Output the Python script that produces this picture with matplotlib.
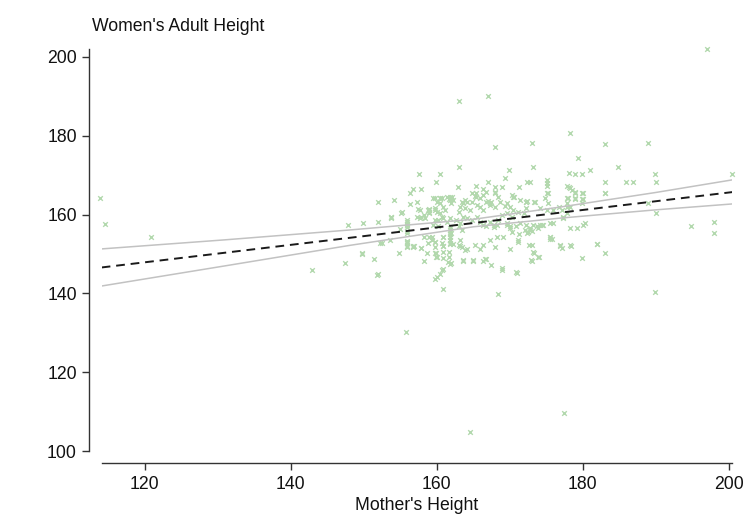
import numpy as np
import matplotlib
matplotlib.use("Agg")
import matplotlib.pyplot as plt

plt.rcParams['font.family'] = ['Liberation Sans', 'DejaVu Sans']

# Altura de la madre (cm) y altura adulta de la hija (cm)
mother_height = [
    113.9, 114.6, 120.9, 142.9, 147.4, 147.9, 149.7, 149.8, 151.4, 151.8, 155.8, 164.5, 177.4, 197.0,
    163.0, 167.0, 178.3, 173.0, 168.0, 183.0, 189.0, 179.4, 184.9, 181.0, 178.1, 178.9, 179.9, 189.9, 200.4,
    163.0, 157.6, 160.4, 169.9, 173.2, 169.3, 159.9, 167.0, 172.8, 172.4, 175.1, 175.1, 183.0, 185.9, 186.9, 190.0,
    162.9, 165.4, 157.8, 156.8, 168.0, 168.0, 169.0, 171.3, 166.4, 165.4, 165.4, 156.4,
    178.1, 178.5, 179.9, 178.9, 183.0, 175.1, 170.3, 170.6,
    151.9, 156.4, 159.8, 160.5, 162.1, 161.7, 163.9, 163.6, 167.0, 167.3, 169.3, 172.3, 173.3,
    178.0, 178.9, 179.9, 179.9, 189.0, 190.0, 194.9, 198.0, 198.0,
    189.9, 168.4, 160.8, 159.8, 160.1, 160.5, 160.8, 151.9, 158.3, 161.9, 163.6, 165.0, 166.4, 166.7,
    167.4, 169.0, 169.0, 171.0, 173.0, 174.0, 173.4, 179.9, 183.0, 182.0, 176.9, 178.4, 175.5, 175.8,
    154.9, 152.5, 155.9, 156.8, 157.8, 158.7, 159.9, 159.9, 160.8, 161.8, 162.2,
    151.9, 153.8, 155.1, 155.9, 155.9, 155.9, 157.4, 157.8, 158.9, 158.9, 159.8, 160.1, 160.4, 160.7,
    160.2, 159.3, 159.3, 159.8, 160.8, 161.8, 161.8, 161.8, 161.8, 161.8,
    152.2, 153.6, 155.9, 155.9, 156.8, 158.2, 158.8, 159.8, 160.7, 160.9, 161.8, 162.0, 161.8, 163.2,
    163.0, 163.4, 163.9,
    159.5, 160.4, 154.1, 157.3, 158.8, 159.8, 160.0, 160.4, 160.9, 161.1, 161.8, 162.0, 163.4, 164.1,
    164.8, 163.2, 163.9, 164.6, 163.0, 165.5, 165.9, 166.4, 166.8, 167.5, 167.3, 168.0, 165.9, 166.4,
    168.7, 169.6, 170.0, 170.5, 171.4, 172.3, 173.5, 172.3, 174.1, 175.1, 176.0, 171.2, 171.9, 174.8,
    175.3, 176.7, 177.1,
    153.8, 155.2, 155.9, 155.9, 157.7, 158.2, 158.4, 159.8, 159.5, 160.2, 160.9, 161.4, 162.7, 163.2,
    163.0, 163.4, 163.6, 164.2, 164.8, 165.5, 165.9, 166.4, 166.8, 167.3, 167.8, 168.4, 168.9, 169.6,
    170.3, 169.6, 170.0, 170.9, 171.4, 172.3, 172.8, 173.2, 173.7, 174.1, 174.6, 175.5, 176.0, 172.1,
    172.5,
    177.8, 177.8, 177.3, 178.3, 179.2, 180.1, 180.3, 176.9, 178.3, 177.1,
    177.9, 178.3, 178.9, 180.0, 177.9, 178.9, 180.0, 183.0, 177.8, 178.3, 177.3, 181.9,
    149.9, 153.8, 155.9, 155.0, 155.9, 157.3, 157.7, 155.9, 155.9, 156.9, 157.9, 159.0, 159.8, 159.8,
    160.0, 160.9, 160.8, 160.9, 161.7, 161.7, 161.6, 160.7, 161.8, 161.8,
    170.9, 166.6, 165.0, 163.6, 161.8, 172.9, 173.2, 173.9, 172.6, 173.0, 170.0, 168.0, 171.2, 171.2,
    172.4, 173.0, 175.5, 175.5, 174.4, 173.9, 172.8, 171.3, 169.6, 170.1, 170.3, 168.2, 167.8, 169.1,
    168.2, 167.3, 166.4, 165.9, 165.2, 164.1, 163.2,
    175.2, 175.1, 166.8, 168.0, 168.4, 170.5, 164.9, 165.2, 161.8, 162.3, 172.4,
    158.9, 158.9, 160.7, 161.4,
]
daughter_height = [
    164.3, 157.7, 154.2, 145.9, 147.7, 157.4, 150.0, 150.3, 148.7, 144.8, 130.2, 105.0, 109.7, 202.0,
    188.9, 190.1, 180.6, 178.2, 177.2, 177.8, 178.2, 174.3, 172.1, 171.4, 170.6, 170.3, 170.3, 170.3, 170.3,
    172.1, 170.3, 170.3, 171.4, 172.0, 169.2, 168.3, 168.3, 168.3, 168.3, 168.8, 167.3, 168.3, 168.3, 168.3, 168.3,
    166.9, 167.3, 166.4, 166.4, 167.1, 165.5, 167.1, 167.1, 166.4, 165.4, 164.5, 165.4,
    166.9, 166.2, 165.4, 165.5, 165.4, 165.4, 165.0, 164.5,
    163.3, 162.7, 164.3, 164.3, 164.5, 163.9, 163.7, 163.0, 163.5, 162.9, 162.2, 163.3, 163.3,
    164.1, 164.1, 163.9, 162.9, 162.9, 160.3, 157.2, 158.2, 155.4,
    140.3, 139.8, 141.1, 143.7, 144.3, 144.9, 146.2, 144.9, 148.2, 147.7, 148.2, 148.2, 148.2, 148.7,
    147.2, 146.5, 146.0, 145.3, 148.2, 149.3, 150.3, 149.1, 150.3, 152.5, 152.1, 152.1, 154.4, 153.9,
    150.3, 152.7, 152.7, 152.1, 151.6, 150.3, 150.2, 149.3, 152.1, 152.5, 152.5,
    158.2, 159.5, 160.5, 158.2, 156.9, 155.3, 161.4, 159.5, 161.2, 160.3, 161.6, 160.7, 160.3, 159.5,
    158.6, 154.4, 153.6, 153.1, 154.4, 159.1, 156.7, 155.7, 154.4, 153.6,
    152.7, 153.6, 153.2, 151.9, 151.9, 154.4, 152.7, 151.9, 152.7, 154.4, 156.1, 155.3, 153.6, 153.6,
    152.3, 151.9, 151.0,
    164.1, 164.1, 163.7, 163.3, 161.2, 161.2, 163.3, 162.9, 162.0, 161.2, 163.7, 162.9, 163.3, 163.3,
    163.3, 162.0, 161.6, 161.2, 160.7, 162.4, 162.0, 161.2, 163.3, 163.3, 162.4, 162.0, 164.1, 165.0,
    163.3, 162.9, 162.0, 161.2, 163.7, 163.3, 163.3, 161.6, 161.6, 161.2, 161.2, 160.7, 160.3, 164.1,
    162.9, 162.0, 161.2,
    159.3, 160.7, 158.6, 157.4, 161.2, 159.9, 159.1, 158.6, 157.4, 157.0, 159.1, 158.2, 158.6, 157.8,
    157.0, 156.1, 159.5, 159.1, 158.6, 159.5, 158.2, 157.4, 157.0, 158.2, 157.4, 158.6, 159.9, 160.3,
    159.5, 157.8, 157.0, 157.0, 157.8, 157.4, 156.5, 157.4, 157.0, 157.4, 157.4, 157.8, 157.8, 156.1,
    155.7,
    162.0, 160.3, 159.5, 156.5, 156.5, 157.4, 157.8, 152.3, 152.3, 151.5,
    167.3, 166.7, 165.6, 165.4, 164.1, 164.0, 163.9, 165.4, 162.9, 162.0, 159.2, 152.5,
    157.8, 159.2, 157.5, 156.4, 155.8, 159.5, 159.2, 153.1, 152.1, 152.1, 151.6, 154.2, 153.1, 150.2,
    149.3, 152.1, 150.6, 148.9, 150.6, 149.3, 148.1, 146.0, 155.0, 152.7,
    145.4, 148.7, 148.5, 148.5, 147.6, 148.5, 150.4, 149.3, 152.3, 152.3, 151.4, 151.7, 153.6, 153.1,
    155.3, 155.8, 153.8, 154.4, 157.4, 156.5, 156.1, 155.0, 157.4, 156.5, 155.7, 157.4, 156.9, 154.4,
    154.4, 153.6, 152.3, 151.4, 152.3, 151.4, 152.0,
    165.4, 167.9, 165.8, 165.8, 164.5, 164.4, 165.4, 164.7, 164.4, 163.7, 163.4,
    161.4, 160.7, 164.1, 164.5,
]

# Recta de regresión e intervalo de confianza
fit_x = [114.1, 200.5]
fit_y = [146.6, 165.7]
ci_x = [114.1, 131.0, 148.1, 165.0, 176.9, 190.0, 200.5]
ci_upper = [151.3, 153.6, 156.1, 158.8, 161.9, 165.6, 168.8]
ci_lower = [141.9, 147.0, 152.2, 156.9, 159.1, 161.2, 162.7]

xticks = [120, 140, 160, 180, 200]
yticks = [100, 120, 140, 160, 180, 200]


def graph_heights():
    fig = plt.figure(figsize=(7.52, 5.32), dpi=100)
    ax = fig.add_axes([0.1352, 0.1517, 0.8386, 0.7564])

    ax.scatter(mother_height, daughter_height, marker='x', s=11,
               color='#b2d8ad', linewidths=1.0, clip_on=False, zorder=2)
    ax.plot(ci_x, ci_upper, color='#c2c2c2', lw=1.1, zorder=3)
    ax.plot(ci_x, ci_lower, color='#c2c2c2', lw=1.1, zorder=3)
    ax.plot(fit_x, fit_y, color='#1a1a1a', lw=1.4, dashes=(4.5, 3.0), zorder=4)

    ax.set_xlim(114.1, 200.5)
    ax.set_ylim(100, 202)
    ax.set_xticks(xticks)
    ax.set_yticks(yticks)

    # Ejes al estilo Stata: separados del área de datos
    for side in ['top', 'right']:
        ax.spines[side].set_visible(False)
    ax.spines['left'].set_position(('outward', 9.4))
    ax.spines['bottom'].set_position(('outward', 8.6))
    ax.spines['left'].set_bounds(100, 202)
    ax.spines['bottom'].set_bounds(114.1, 200.5)
    for side in ['left', 'bottom']:
        ax.spines[side].set_color('#333333')
        ax.spines[side].set_linewidth(1.0)
    ax.tick_params(axis='both', direction='out', length=5, width=1.0,
                   color='#333333', labelsize=12.7, labelcolor='#111111')
    ax.tick_params(axis='y', pad=3.5)
    ax.tick_params(axis='x', pad=4)

    fig.text(0.1227, 1 - 31 / 532, "Women's Adult Height", fontsize=12.7,
             ha='left', va='baseline', color='#111111')
    fig.text(0.5545, 1 - 510.5 / 532, "Mother's Height", fontsize=12.7,
             ha='center', va='baseline', color='#111111')

    fig.savefig('out.png', dpi=100)


if __name__ == "__main__":
    graph_heights()
